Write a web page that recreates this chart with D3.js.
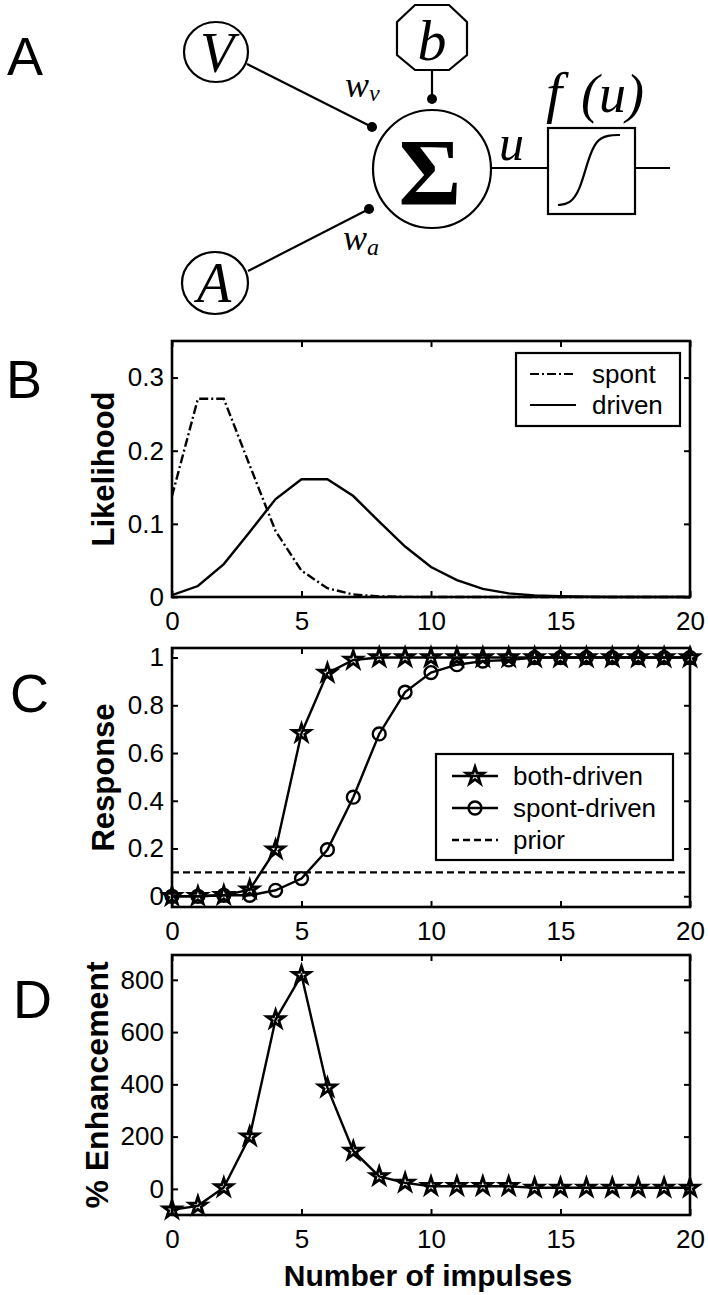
<!DOCTYPE html>
<html>
<head>
<meta charset="utf-8">
<script src="https://cdn.jsdelivr.net/npm/d3@7"></script>
<style>
  body { margin: 0; background: #fff; }
  svg { display: block; }
  text { font-family: "Liberation Sans", Arial, sans-serif; fill: #000; }
  .serif { font-family: "Liberation Serif", "Times New Roman", serif; font-style: italic; }
</style>
</head>
<body>
<div id="fig"></div>
<script>
// number of impulses (x axis of B, C, D)
let impulses = [0, 1, 2, 3, 4, 5, 6, 7, 8, 9, 10, 11, 12, 13, 14, 15, 16, 17, 18, 19, 20];

// Panel B - likelihood
let spont  = [0.138, 0.271, 0.271, 0.180, 0.090, 0.036, 0.012, 0.0034, 0.0009, 0.0002, 0, 0, 0, 0, 0, 0, 0, 0, 0, 0, 0];
let driven = [0.0025, 0.015, 0.045, 0.089, 0.134, 0.161, 0.161, 0.138, 0.103, 0.069, 0.041, 0.023, 0.011, 0.005, 0.002, 0.001, 0.0003, 0.0001, 0, 0, 0];

// Panel C - response
let bothDriven  = [0, 0, 0.004, 0.028, 0.195, 0.683, 0.935, 0.99, 1, 1, 1, 1, 1, 1, 1, 1, 1, 1, 1, 1, 1];
let spontDriven = [0, 0, 0.004, 0.004, 0.025, 0.074, 0.195, 0.415, 0.68, 0.855, 0.937, 0.97, 0.985, 0.99, 1, 1, 1, 1, 1, 1, 1];
let prior = 0.1;

// Panel D - % enhancement
let enhancement = [-80, -65, 5, 200, 648, 818, 387, 145, 48, 23, 10, 10, 10, 10, 4, 4, 4, 4, 4, 4, 4];

// tick values / labels
let xTicks = [0, 5, 10, 15, 20];
let xTickLabels = ["0", "5", "10", "15", "20"];
let yTicksB = [0, 0.1, 0.2, 0.3];
let yTickLabelsB = ["0", "0.1", "0.2", "0.3"];
let yTicksC = [0, 0.2, 0.4, 0.6, 0.8, 1];
let yTickLabelsC = ["0", "0.2", "0.4", "0.6", "0.8", "1"];
let yTicksD = [0, 200, 400, 600, 800];
let yTickLabelsD = ["0", "200", "400", "600", "800"];

let width = 708, height = 1295;

let svg = d3.select("#fig")
    .append("svg")
    .attr("width", width)
    .attr("height", height);

// ---------- Panel letters ----------
let letters = [["A", 7, 75], ["B", 6, 398], ["C", 10, 712], ["D", 13, 1018]];
letters.forEach(l => {
    svg.append("text")
        .attr("x", l[1]).attr("y", l[2])
        .style("font-size", "54px")
        .text(l[0]);
});

// ---------- Panel A: the diagram ----------
let diag = svg.append("g").attr("fill", "none").attr("stroke", "#000").attr("stroke-width", 2.2);

// input nodes
diag.append("ellipse").attr("cx", 216).attr("cy", 52).attr("rx", 32).attr("ry", 30);
diag.append("ellipse").attr("cx", 215).attr("cy", 283).attr("rx", 33).attr("ry", 31);
// summation node
diag.append("ellipse").attr("cx", 432).attr("cy", 169).attr("rx", 59).attr("ry", 59);
// bias octagon
diag.append("polygon")
    .attr("points", "415,5 449,5 467,22 467,55 449,70 415,70 397,55 397,22");
// connections
diag.append("line").attr("x1", 247).attr("y1", 64).attr("x2", 372).attr("y2", 127);
diag.append("line").attr("x1", 248).attr("y1", 271).attr("x2", 369).attr("y2", 209);
diag.append("line").attr("x1", 432).attr("y1", 70).attr("x2", 432).attr("y2", 99);
diag.append("line").attr("x1", 491).attr("y1", 168).attr("x2", 548).attr("y2", 168);
diag.append("line").attr("x1", 635).attr("y1", 168).attr("x2", 670).attr("y2", 168);
// f(u) box
diag.append("rect").attr("x", 548).attr("y", 128).attr("width", 87).attr("height", 86);
// sigmoid inside box
diag.append("path")
    .attr("d", d3.line().curve(d3.curveBasis)([[558, 205], [570, 204], [580, 190], [588, 160], [596, 140], [608, 135], [620, 135]]));

// synapse dots
[[372, 127], [369, 209], [432, 99]].forEach(p => {
    svg.append("circle").attr("cx", p[0]).attr("cy", p[1]).attr("r", 5).attr("fill", "#000");
});

svg.append("text").attr("class", "serif").attr("x", 217).attr("y", 72)
    .attr("text-anchor", "middle").style("font-size", "56px").text("V");
svg.append("text").attr("class", "serif").attr("x", 214).attr("y", 302)
    .attr("text-anchor", "middle").style("font-size", "56px").text("A");
svg.append("text").attr("class", "serif").attr("x", 432).attr("y", 60)
    .attr("text-anchor", "middle").style("font-size", "58px").text("b");
svg.append("text").attr("x", 430).attr("y", 205)
    .attr("text-anchor", "middle")
    .style("font-family", "'Liberation Serif', serif").style("font-weight", "bold")
    .style("font-size", "96px").text("Σ");
svg.append("text").attr("class", "serif").attr("x", 499).attr("y", 160)
    .style("font-size", "50px").text("u");
svg.append("text").attr("class", "serif").attr("x", 546).attr("y", 112)
    .style("font-size", "58px").text("f");
svg.append("text").attr("class", "serif").attr("x", 581).attr("y", 112)
    .style("font-size", "54px").text("(u)");

let wv = svg.append("text").attr("class", "serif").attr("x", 345).attr("y", 97).style("font-size", "36px");
wv.append("tspan").text("w");
wv.append("tspan").attr("dy", 4).style("font-size", "24px").text("v");
let wa = svg.append("text").attr("class", "serif").attr("x", 343).attr("y", 250).style("font-size", "36px");
wa.append("tspan").text("w");
wa.append("tspan").attr("dy", 5).style("font-size", "24px").text("a");

// ---------- shared axis frame for B, C, D ----------
function makePanel(box, yDomain, yTicks, yLabels, yTitle, titleX, titleSize) {
    let g = svg.append("g");
    let x = d3.scaleLinear().domain([0, 20]).range([box.left, box.right]);
    let y = d3.scaleLinear().domain(yDomain).range([box.bottom, box.top]);

    // bottom axis with labels
    g.append("g")
        .attr("transform", `translate(0,${box.bottom})`)
        .call(d3.axisBottom(x).tickValues(xTicks)
            .tickFormat((d, i) => xTickLabels[i])
            .tickSize(-6).tickSizeOuter(0).tickPadding(15));
    // left axis with labels
    g.append("g")
        .attr("transform", `translate(${box.left},0)`)
        .call(d3.axisLeft(y).tickValues(yTicks)
            .tickFormat((d, i) => yLabels[i])
            .tickSize(-6).tickSizeOuter(0).tickPadding(8));
    // top and right ticks only
    g.append("g")
        .attr("transform", `translate(0,${box.top})`)
        .call(d3.axisTop(x).tickValues(xTicks).tickFormat("").tickSize(-6).tickSizeOuter(0));
    g.append("g")
        .attr("transform", `translate(${box.right},0)`)
        .call(d3.axisRight(y).tickValues(yTicks).tickFormat("").tickSize(-6).tickSizeOuter(0));

    g.selectAll(".domain").remove();
    g.selectAll(".tick line").attr("stroke", "#000").attr("stroke-width", 2);
    g.selectAll(".tick text")
        .style("font-family", "'Liberation Sans', Arial, sans-serif")
        .style("font-size", "26px").attr("fill", "#000");

    // frame
    g.append("rect")
        .attr("x", box.left).attr("y", box.top)
        .attr("width", box.right - box.left).attr("height", box.bottom - box.top)
        .attr("fill", "none").attr("stroke", "#000").attr("stroke-width", 2.6);

    // y axis title
    g.append("text")
        .attr("transform", `translate(${titleX},${(box.top + box.bottom) / 2}) rotate(-90)`)
        .attr("text-anchor", "middle")
        .style("font-weight", "bold").style("font-size", titleSize + "px")
        .text(yTitle);

    return {g, x, y};
}

let lineGen = (x, y, vals) => d3.line()
    .x((d, i) => x(impulses[i]))
    .y(d => y(d))(vals);

// ---------- Panel B ----------
let B = makePanel({left: 172, right: 690, top: 341, bottom: 597}, [0, 0.35],
    yTicksB, yTickLabelsB, "Likelihood", 114, 31);

B.g.append("path")
    .attr("d", lineGen(B.x, B.y, spont))
    .attr("fill", "none").attr("stroke", "#000").attr("stroke-width", 2.4)
    .attr("stroke-dasharray", "9,3,2,3");
B.g.append("path")
    .attr("d", lineGen(B.x, B.y, driven))
    .attr("fill", "none").attr("stroke", "#000").attr("stroke-width", 2.4);

// legend B
let legB = B.g.append("g");
legB.append("rect").attr("x", 516).attr("y", 353).attr("width", 164).attr("height", 73)
    .attr("fill", "#fff").attr("stroke", "#000").attr("stroke-width", 2.2);
legB.append("line").attr("x1", 530).attr("x2", 576).attr("y1", 374).attr("y2", 374)
    .attr("stroke", "#000").attr("stroke-width", 2.2).attr("stroke-dasharray", "9,3,2,3");
legB.append("line").attr("x1", 530).attr("x2", 576).attr("y1", 405).attr("y2", 405)
    .attr("stroke", "#000").attr("stroke-width", 2.2);
legB.append("text").attr("x", 592).attr("y", 383).style("font-size", "26px").text("spont");
legB.append("text").attr("x", 592).attr("y", 414).style("font-size", "26px").text("driven");

// ---------- Panel C ----------
let C = makePanel({left: 172, right: 690, top: 648, bottom: 907}, [-0.045, 1.04],
    yTicksC, yTickLabelsC, "Response", 114, 31);

let star = d3.symbol().type(d3.symbolStar).size(92);
let circ = d3.symbol().type(d3.symbolCircle).size(130);

C.g.append("line")
    .attr("x1", C.x(0)).attr("x2", C.x(20))
    .attr("y1", C.y(prior)).attr("y2", C.y(prior))
    .attr("stroke", "#000").attr("stroke-width", 2.2).attr("stroke-dasharray", "7,4");

C.g.append("path")
    .attr("d", lineGen(C.x, C.y, spontDriven))
    .attr("fill", "none").attr("stroke", "#000").attr("stroke-width", 2.4);
C.g.selectAll(".circ").data(spontDriven).enter().append("path")
    .attr("class", "circ")
    .attr("transform", (d, i) => `translate(${C.x(impulses[i])},${C.y(d)})`)
    .attr("d", circ).attr("fill", "none").attr("stroke", "#000").attr("stroke-width", 2.4);

C.g.append("path")
    .attr("d", lineGen(C.x, C.y, bothDriven))
    .attr("fill", "none").attr("stroke", "#000").attr("stroke-width", 2.4);
C.g.selectAll(".star").data(bothDriven).enter().append("path")
    .attr("class", "star")
    .attr("transform", (d, i) => `translate(${C.x(impulses[i])},${C.y(d)})`)
    .attr("d", star).attr("fill", "none").attr("stroke", "#000").attr("stroke-width", 2.8);

// legend C
let legC = C.g.append("g");
legC.append("rect").attr("x", 436).attr("y", 754).attr("width", 237).attr("height", 106)
    .attr("fill", "#fff").attr("stroke", "#000").attr("stroke-width", 2.2);
let legRows = [["both-driven", 776, "star"], ["spont-driven", 808, "circ"], ["prior", 840, "dash"]];
legRows.forEach(r => {
    let ln = legC.append("line").attr("x1", 452).attr("x2", 498).attr("y1", r[1]).attr("y2", r[1])
        .attr("stroke", "#000").attr("stroke-width", 2.4);
    if (r[2] === "dash") ln.attr("stroke-dasharray", "7,4");
    if (r[2] !== "dash") {
        legC.append("path")
            .attr("transform", `translate(475,${r[1]})`)
            .attr("d", r[2] === "star" ? star : circ)
            .attr("fill", "none").attr("stroke", "#000").attr("stroke-width", r[2] === "star" ? 2.8 : 2.4);
    }
    legC.append("text").attr("x", 513).attr("y", r[1] + 9).style("font-size", "26px").text(r[0]);
});

// ---------- Panel D ----------
let D = makePanel({left: 172, right: 690, top: 955, bottom: 1215}, [-100, 895],
    yTicksD, yTickLabelsD, "% Enhancement", 108, 32);

D.g.append("path")
    .attr("d", lineGen(D.x, D.y, enhancement))
    .attr("fill", "none").attr("stroke", "#000").attr("stroke-width", 2.4);
D.g.selectAll(".star").data(enhancement).enter().append("path")
    .attr("class", "star")
    .attr("transform", (d, i) => `translate(${D.x(impulses[i])},${D.y(d)})`)
    .attr("d", star).attr("fill", "none").attr("stroke", "#000").attr("stroke-width", 2.8);

// x axis title
svg.append("text")
    .attr("x", 428).attr("y", 1286)
    .attr("text-anchor", "middle")
    .style("font-weight", "bold").style("font-size", "30px")
    .text("Number of impulses");
</script>
</body>
</html>
